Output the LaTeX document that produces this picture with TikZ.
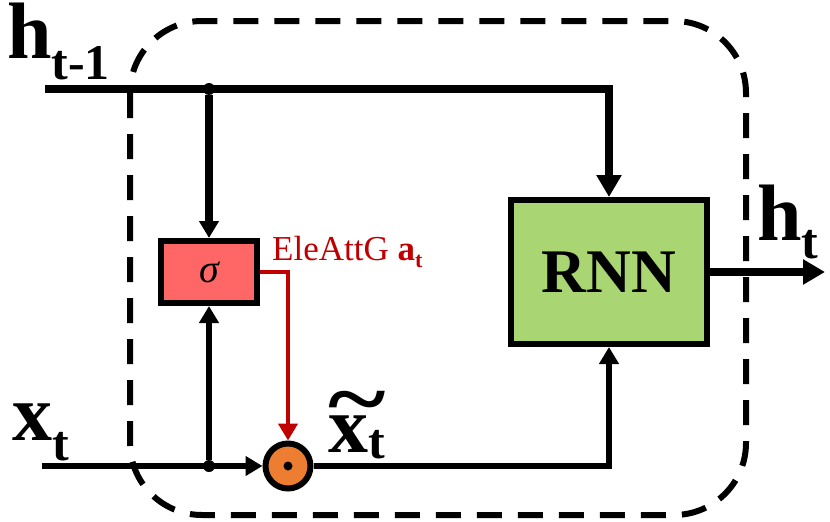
\documentclass[tikz,border=0pt]{standalone}
\usepackage{fontspec}
\setmainfont{Liberation Serif}
\usepackage{graphicx}
\usetikzlibrary{arrows.meta}
\definecolor{GateRed}{RGB}{255,102,102}
\definecolor{AttRed}{RGB}{192,0,0}
\definecolor{MulOrange}{RGB}{237,125,49}
\definecolor{RnnGreen}{RGB}{169,214,114}
\newcommand{\biglabel}[3]{\fontsize{80}{80}\selectfont\bfseries #1\raisebox{#3}{\fontsize{50}{50}\selectfont #2}}
\newcommand{\wavyx}{\makebox[0pt][l]{\raisebox{24pt}{\scalebox{1.38}[1.1]{\char"7E}}}x}

\begin{document}
\begin{tikzpicture}[x=1pt,y=-1pt,
      >={Triangle[length=22pt,width=24pt]},
      small/.style={-{Triangle[length=17pt,width=19pt]}},
      hline/.style={line width=7.5pt},
      xline/.style={line width=6pt},
      rnnbox/.style={draw,line width=6pt,fill=RnnGreen,minimum width=196pt,minimum height=144pt,
                     inner sep=0pt,font=\fontsize{62}{62}\selectfont\bfseries},
      gatebox/.style={draw,line width=6pt,fill=GateRed,minimum width=96pt,minimum height=62pt,
                      inner sep=0pt,font=\fontsize{40}{40}\selectfont\itshape},
      mul/.style={circle,draw,line width=6pt,fill=MulOrange,minimum size=45pt,inner sep=0pt},
      dot/.style={circle,fill,minimum size=12pt,inner sep=0pt},
      lbl/.style={anchor=base west,inner sep=0pt}]
    \useasboundingbox (0,0) rectangle (830,522);
    % cell boundary
    \draw[line width=6pt,dash pattern=on 25pt off 16pt,rounded corners=72pt] (130,21) rectangle (746,515);
    \node[rnnbox] (rnn) at (609,272) {RNN};
    \node[gatebox] (gate) at (209,272) {σ};
    \node[mul] (prod) at (288,466) {};
    \fill (prod) circle (4.5pt);
    \coordinate (hin) at (45,89);
    \coordinate (xin) at (42,466);
    \coordinate (hout) at (825,272);
    \node[dot] (j1) at (209,89) {};
    \node[dot] (j2) at (209,466) {};
    \draw[hline,->] (hin) -| (rnn.north);
    \draw[hline,small] (j1) -- (gate.north);
    \draw[xline,small] (j2) -- (gate.south);
    \draw[xline,small] (xin) -- (prod.west);
    \draw[line width=4.5pt,draw=AttRed,small] (gate.east) -| (prod.north);
    \draw[xline,small] (prod.east) -| (rnn.south);
    \draw[hline,->] (rnn.east) -- (hout);
    % labels
    \node[lbl] (hprev) at (7,58) {\biglabel{h}{t-1}{-21pt}};
    \node[lbl] (hnext) at (757,240) {\biglabel{h}{t}{-18pt}};
    \node[lbl] (xcur) at (12,440) {\biglabel{x}{t}{-20pt}};
    \node[lbl] (xatt) at (328,452) {\biglabel{\wavyx}{t}{-6pt}};
    \node[lbl,text=AttRed] (attlbl) at (272,260)
      {\fontsize{35}{35}\selectfont EleAttG \textbf{a}\raisebox{-7pt}{\fontsize{22}{22}\selectfont\bfseries t}};
  \end{tikzpicture}
\end{document}
